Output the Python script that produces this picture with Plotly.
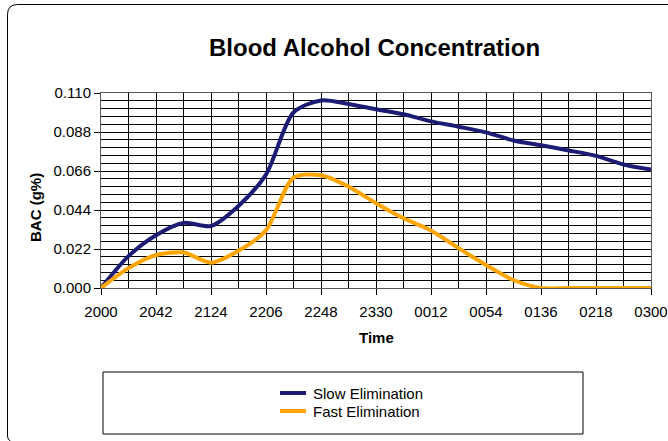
import plotly.graph_objects as go

times = ["2000", "2021", "2042", "2103", "2124", "2145", "2206", "2227", "2248", "2309",
         "2330", "2351", "0012", "0033", "0054", "0115", "0136", "0157", "0218", "0239", "0300"]
slow = [0.000, 0.0180, 0.0298, 0.0367, 0.0350, 0.0463, 0.0640, 0.0990, 0.1058, 0.1038,
        0.1008, 0.0980, 0.0940, 0.0910, 0.0878, 0.0832, 0.0805, 0.0776, 0.0745, 0.0697, 0.0668]
fast = [0.000, 0.0112, 0.0186, 0.0200, 0.0143, 0.0210, 0.0325, 0.0622, 0.0636, 0.0572,
        0.0478, 0.0393, 0.0325, 0.0225, 0.0130, 0.0045, 0.0000, 0.0000, 0.0000, 0.0000, 0.0000]
y_ticks = [0.000, 0.022, 0.044, 0.066, 0.088, 0.110]
series_names = ["Slow Elimination", "Fast Elimination"]
series_colors = ["#1c1c74", "#FFA500"]

W, H = 668, 441
L, R, T, B = 101, 651, 93, 288
PW, PH = R - L, B - T


def px(x):
    return (x - L) / PW


def py(y):
    return (B - y) / PH


xs = list(range(len(times)))
FONT = "Liberation Sans, Arial, sans-serif"

fig = go.Figure()
for name, vals, col in zip(series_names, [slow, fast], series_colors):
    fig.add_trace(go.Scatter(x=xs, y=vals, name=name, mode="lines", showlegend=False,
                             line=dict(color=col, width=4, shape="spline", smoothing=0.8)))

fig.update_layout(
    width=W, height=H,
    margin=dict(l=L, r=W - R, t=T, b=H - B, autoexpand=False),
    paper_bgcolor="white", plot_bgcolor="white",
    font=dict(family=FONT, size=15, color="black"),
    showlegend=False,
)

fig.update_xaxes(
    range=[0, len(times) - 1], tickmode="array",
    tickvals=xs[::2], ticktext=times[::2], automargin=False,
    showgrid=True, gridcolor="black", gridwidth=1,
    minor=dict(tickmode="array", tickvals=xs, showgrid=True, gridcolor="black", gridwidth=1),
    showline=True, linecolor="#555", linewidth=1, mirror=True,
    ticks="outside", ticklen=6, tickcolor="black", ticklabelstandoff=4,
    tickfont=dict(family=FONT, size=15), zeroline=False,
)
fig.update_yaxes(
    range=[0, 0.110], tickmode="array", tickvals=y_ticks,
    ticktext=[f"{v:.3f}" for v in y_ticks], automargin=False,
    showgrid=True, gridcolor="black", gridwidth=1,
    minor=dict(tickmode="array", tickvals=[i * 0.0044 for i in range(26)],
               showgrid=True, gridcolor="black", gridwidth=1),
    showline=True, linecolor="#555", linewidth=1, mirror=True,
    ticks="outside", ticklen=6, tickcolor="black",
    tickfont=dict(family=FONT, size=15), zeroline=False,
)

# titles
fig.add_annotation(text="<b>Blood Alcohol Concentration</b>", xref="paper", yref="paper",
                   x=px(374), y=py(48), xanchor="center", yanchor="middle", showarrow=False,
                   font=dict(family=FONT, size=24, color="black"))
fig.add_annotation(text="<b>BAC (g%)</b>", xref="paper", yref="paper",
                   x=px(35), y=py(208), xanchor="center", yanchor="middle",
                   showarrow=False, textangle=-90,
                   font=dict(family=FONT, size=15, color="black"))
fig.add_annotation(text="<b>Time</b>", xref="paper", yref="paper",
                   x=px(376), y=py(337), xanchor="center", yanchor="middle", showarrow=False,
                   font=dict(family=FONT, size=15, color="black"))

# legend box and entries
fig.add_shape(type="rect", xref="paper", yref="paper",
              x0=px(103), x1=px(583), y0=py(372), y1=py(434),
              line=dict(color="black", width=1), fillcolor="rgba(0,0,0,0)")
for i, (name, col) in enumerate(zip(series_names, series_colors)):
    row_y = 393 + i * 18
    fig.add_shape(type="line", xref="paper", yref="paper",
                  x0=px(280), x1=px(306), y0=py(row_y), y1=py(row_y),
                  line=dict(color=col, width=4))
    fig.add_annotation(text=name, xref="paper", yref="paper",
                       x=px(311), y=py(row_y), xanchor="left", yanchor="middle",
                       showarrow=False, font=dict(family=FONT, size=15, color="black"))

# outer rounded chart border (right and bottom edges fall outside the picture)
x0, y0, r = 7.5, 4.5, 10
path = (f"M {px(668)},{py(y0)} L {px(x0 + r)},{py(y0)} "
        f"Q {px(x0)},{py(y0)} {px(x0)},{py(y0 + r)} L {px(x0)},{py(436)} "
        f"Q {px(x0)},{py(440)} {px(x0 + 3)},{py(441)}")
fig.add_shape(type="path", xref="paper", yref="paper", path=path,
              line=dict(color="black", width=1))

fig.write_html("out.html", config={"displayModeBar": False},
               post_script="document.body.style.margin='0';document.body.style.overflow='hidden';")
